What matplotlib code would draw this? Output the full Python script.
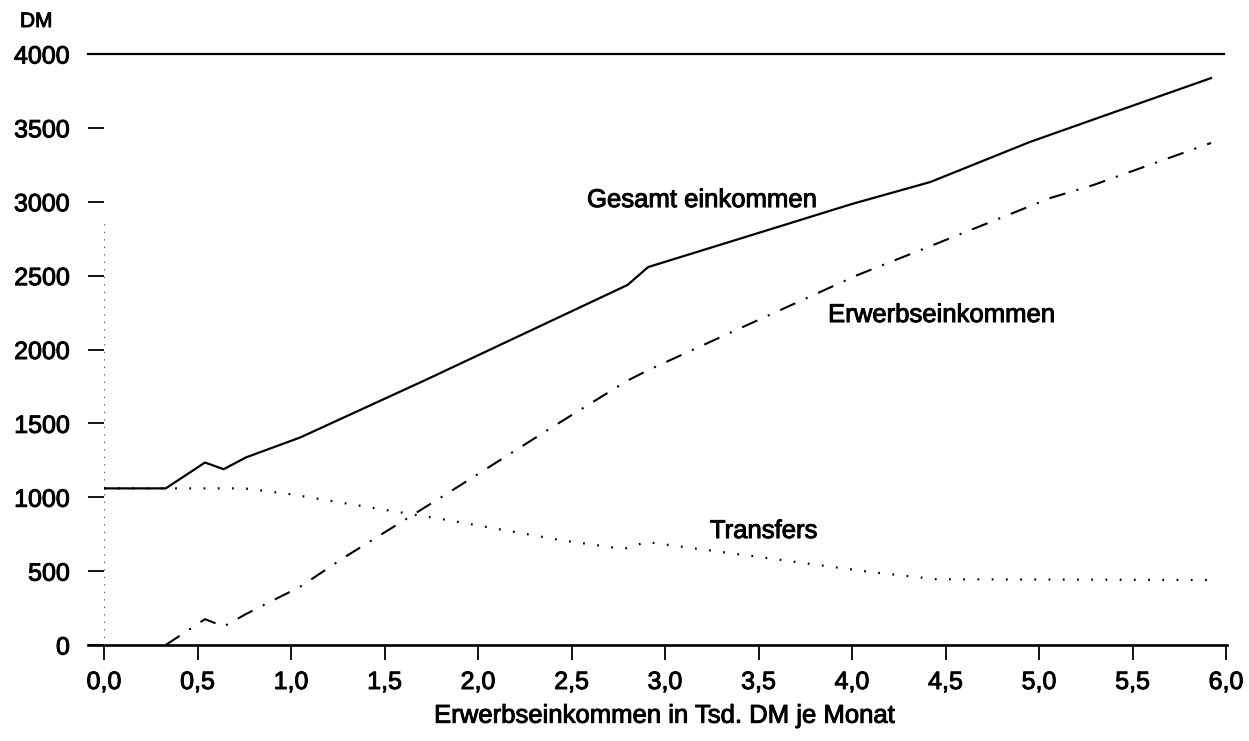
import matplotlib
matplotlib.use("Agg")
import matplotlib.pyplot as plt
import matplotlib.patheffects as pe

plt.rcParams['font.family'] = ['Liberation Sans', 'DejaVu Sans']

# ---- data ----
gesamt_x = [0.0, 0.33, 0.54, 0.64, 0.76, 1.05, 1.72, 2.80, 2.91, 3.36, 4.00, 4.42, 4.95, 5.33, 5.92]
gesamt_y = [1060, 1060, 1235, 1190, 1270, 1405, 1794, 2437, 2558, 2734, 2985, 3134, 3404, 3574, 3837]

erwerb_x = [0.33, 0.54, 0.64, 0.76, 1.05, 1.28, 1.84, 2.39, 2.80, 2.91, 3.36, 4.03, 4.42, 5.06, 5.29, 5.92]
erwerb_y = [0, 175, 125, 210, 395, 589, 1029, 1469, 1790, 1860, 2120, 2504, 2700, 3025, 3113, 3398]

transfer_x = [0.0, 0.75, 1.0, 1.54, 1.84, 2.44, 2.78, 2.90, 3.36, 3.94, 4.10, 4.45, 5.92]
transfer_y = [1060, 1060, 1020, 907, 845, 710, 650, 697, 620, 521, 494, 445, 440]

x_ticks = [0.0, 0.5, 1.0, 1.5, 2.0, 2.5, 3.0, 3.5, 4.0, 4.5, 5.0, 5.5, 6.0]
x_tick_labels = ['0,0', '0,5', '1,0', '1,5', '2,0', '2,5', '3,0', '3,5', '4,0', '4,5', '5,0', '5,5', '6,0']
y_ticks = [0, 500, 1000, 1500, 2000, 2500, 3000, 3500, 4000]
y_tick_labels = ['0', '500', '1000', '1500', '2000', '2500', '3000', '3500', '4000']

W, H = 1249, 741
fig = plt.figure(figsize=(W / 100, H / 100), dpi=100)
ax = fig.add_axes([104 / W, 96 / H, (1226 - 104) / W, (687 - 96) / H])
ax.set_xlim(0, 6)
ax.set_ylim(0, 4000)
for s in ax.spines.values():
    s.set_visible(False)

thick = [pe.withStroke(linewidth=0.7, foreground='black')]

# frame: solid top/bottom, faint dotted sides
ax.axhline(4000, xmin=-0.0143, xmax=0.998, color='black', lw=1.6, clip_on=False)
ax.axhline(0, xmin=-0.0143, xmax=1.001, color='black', lw=1.9, clip_on=False)
ax.axvline(0, ymin=0, ymax=0.72, color='#555555', lw=0.9, ls=(0, (1, 5)))
ax.axvline(6, ymin=0, ymax=0.78, color='#555555', lw=0.9, ls=(0, (1, 5)))

ax.plot(gesamt_x, gesamt_y, color='black', lw=1.6, solid_joinstyle='round')
ax.plot(erwerb_x, erwerb_y, color='black', lw=1.5, ls=(0, (8, 5.5, 1.0, 5.5)))
ax.plot(transfer_x, transfer_y, color='black', lw=1.6, ls=(0, (0.8, 5.6)))

ax.set_xticks(x_ticks)
ax.set_xticklabels(x_tick_labels)
ax.set_yticks(y_ticks)
ax.set_yticklabels(y_tick_labels)
ax.tick_params(axis='x', direction='out', length=11, width=1.3, pad=7, labelsize=18)
ax.tick_params(axis='y', direction='out', length=11.5, width=1.3, pad=13, labelsize=18)
for lab in ax.get_xticklabels() + ax.get_yticklabels():
    lab.set_path_effects(thick)

xl = ax.set_xlabel('Erwerbseinkommen in Tsd. DM je Monat', fontsize=18.5, labelpad=7)
xl.set_path_effects(thick)

for txt in [
    ax.text(2.583, 2964, 'Gesamt einkommen', fontsize=18.5, va='baseline', ha='left'),
    ax.text(3.872, 2186, 'Erwerbseinkommen', fontsize=18.5, va='baseline', ha='left'),
    ax.text(3.24, 724, 'Transfers', fontsize=18.5, va='baseline', ha='left'),
    fig.text(20 / W, 1 - 12 / H, 'DM', fontsize=15, va='top', ha='left'),
]:
    txt.set_path_effects(thick)

fig.savefig('out.png', dpi=100)
